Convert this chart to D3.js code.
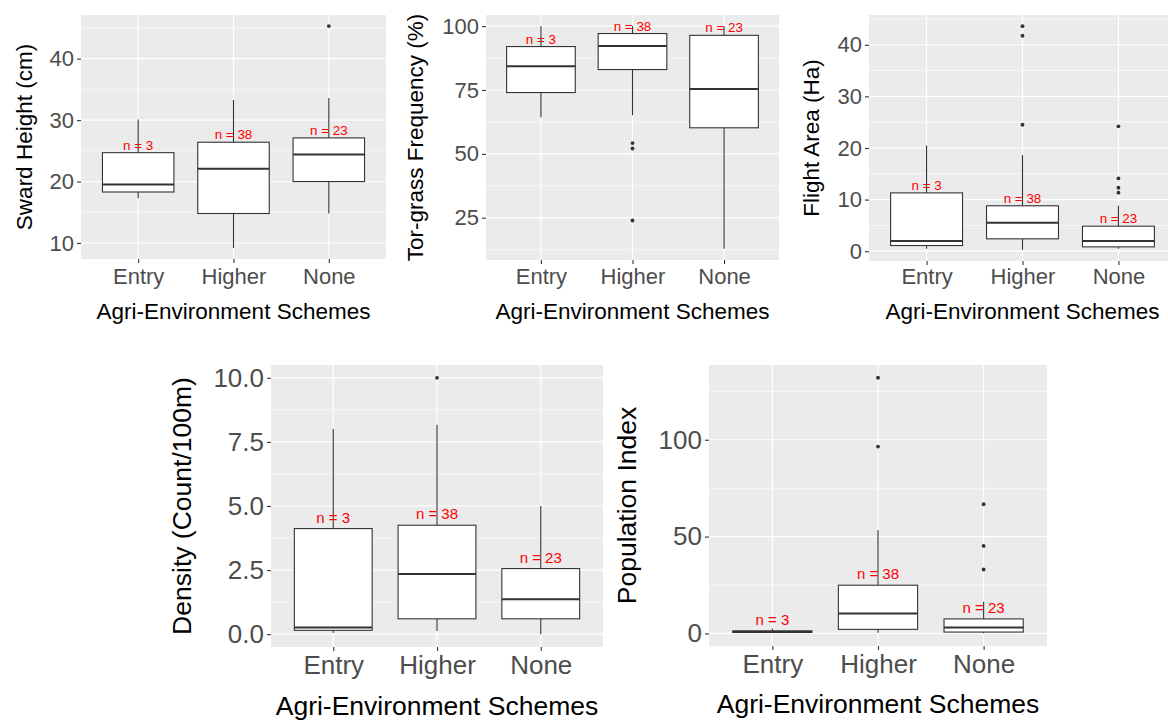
<!DOCTYPE html>
<html>
<head>
<meta charset="utf-8">
<script src="https://cdn.jsdelivr.net/npm/d3@7"></script>
<style>
  body { margin: 0; background: #fff; }
</style>
</head>
<body>
<div id="chart"></div>
<script>
const schemes = ["Entry", "Higher", "None"];
const sampleSizes = [3, 38, 23];

// box stats per scheme: [lower whisker, Q1, median, Q3, upper whisker]
const swardBoxes = [[17.3, 18.3, 19.5, 24.7, 30.1], [9.2, 14.8, 22.1, 26.4, 33.3], [14.8, 20.0, 24.4, 27.1, 33.6]];
const swardOutliers = [[], [], [45.3]];
const swardTicks = [10, 20, 30, 40];

const torBoxes = [[64.3, 74.0, 84.3, 92.0, 100], [65.1, 83.0, 92.2, 97.1, 100], [12.8, 60.2, 75.4, 96.4, 100]];
const torOutliers = [[], [54.2, 52.1, 23.9], []];
const torTicks = [25, 50, 75, 100];

const flightBoxes = [[0.47, 1.1, 2.0, 11.3, 20.5], [0.27, 2.4, 5.5, 8.8, 18.6], [0.47, 0.84, 2.0, 4.85, 8.8]];
const flightOutliers = [[], [43.6, 41.75, 24.5], [24.2, 14.1, 12.3, 11.35]];
const flightTicks = [0, 10, 20, 30, 40];

const densityBoxes = [[0.05, 0.15, 0.26, 4.12, 8.0], [0.12, 0.6, 2.35, 4.25, 8.17], [0.0, 0.6, 1.36, 2.56, 5.0]];
const densityOutliers = [[], [10.0], []];
const densityTicks = [0, 2.5, 5, 7.5, 10];

const popBoxes = [[0.2, 0.5, 0.9, 1.3, 2.5], [0.3, 2.1, 10.3, 24.9, 53.4], [0.1, 0.7, 3.1, 7.5, 16.3]];
const popOutliers = [[], [132, 96.5], [66.7, 45.2, 33.0]];
const popTicks = [0, 50, 100];

const xTitle = "Agri-Environment Schemes";

const panels = [
  { boxes: swardBoxes, outliers: swardOutliers, ticks: swardTicks, title: "Sward Height (cm)", fmt: d3.format("d"),
    x0: 81, x1: 386, y0: 15, y1: 259, font: 22, nFont: 13.4, titleOff: 57, nOff: 3, tickBase: 25, xTitleBase: 60 },
  { boxes: torBoxes, outliers: torOutliers, ticks: torTicks, title: "Tor-grass Frequency (%)", fmt: d3.format("d"),
    x0: 486, x1: 779, y0: 15, y1: 260, font: 22, nFont: 13.4, titleOff: 71, nOff: 3, tickBase: 24, xTitleBase: 59 },
  { boxes: flightBoxes, outliers: flightOutliers, ticks: flightTicks, title: "Flight Area (Ha)", fmt: d3.format("d"),
    x0: 869, x1: 1176, y0: 15, y1: 261, font: 22, nFont: 13.4, titleOff: 58, nOff: 3, tickBase: 23, xTitleBase: 58 },
  { boxes: densityBoxes, outliers: densityOutliers, ticks: densityTicks, title: "Density (Count/100m)", fmt: d3.format(".1f"),
    x0: 271, x1: 603, y0: 365, y1: 647, font: 26, nFont: 15, titleOff: 89, nOff: 6, tickBase: 27, xTitleBase: 68 },
  { boxes: popBoxes, outliers: popOutliers, ticks: popTicks, title: "Population Index", fmt: d3.format("d"),
    x0: 709, x1: 1047, y0: 365, y1: 646, font: 26, nFont: 15, titleOff: 82, nOff: 6, tickBase: 27, xTitleBase: 67 }
];

const svg = d3.select("#chart").append("svg")
  .attr("width", 1168)
  .attr("height", 720)
  .style("font-family", "'Liberation Sans', Arial, sans-serif");

panels.forEach(p => {
  const allVals = p.boxes.flat().concat(p.outliers.flat());
  const lo = d3.min(allVals), hi = d3.max(allVals);
  const pad = (hi - lo) * 0.05;   // ggplot default expansion

  const y = d3.scaleLinear().domain([lo - pad, hi + pad]).range([p.y1, p.y0]);
  const x = d3.scalePoint().domain(schemes).range([p.x0, p.x1]).padding(0.6);
  const boxW = x.step() * 0.75;

  const g = svg.append("g");

  g.append("rect")
    .attr("x", p.x0).attr("y", p.y0)
    .attr("width", p.x1 - p.x0).attr("height", p.y1 - p.y0)
    .attr("fill", "#EBEBEB");

  // minor grid: midpoints between major breaks
  const step = p.ticks[1] - p.ticks[0];
  const minor = [p.ticks[0] - step / 2].concat(p.ticks.map(t => t + step / 2))
    .filter(v => v >= y.domain()[0] && v <= y.domain()[1]);

  g.selectAll(".minor").data(minor).enter().append("line")
    .attr("x1", p.x0).attr("x2", p.x1)
    .attr("y1", d => y(d)).attr("y2", d => y(d))
    .attr("stroke", "#fff").attr("stroke-width", 0.6);

  g.selectAll(".major").data(p.ticks).enter().append("line")
    .attr("x1", p.x0).attr("x2", p.x1)
    .attr("y1", d => y(d)).attr("y2", d => y(d))
    .attr("stroke", "#fff").attr("stroke-width", 1.2);

  g.selectAll(".vgrid").data(schemes).enter().append("line")
    .attr("x1", d => x(d)).attr("x2", d => x(d))
    .attr("y1", p.y0).attr("y2", p.y1)
    .attr("stroke", "#fff").attr("stroke-width", 1.2);

  // axes
  const yAxis = g.append("g")
    .attr("transform", `translate(${p.x0},0)`)
    .call(d3.axisLeft(y).tickValues(p.ticks).tickFormat(p.fmt).tickSize(4).tickPadding(3));
  const xAxis = g.append("g")
    .attr("transform", `translate(0,${p.y1})`)
    .call(d3.axisBottom(x).tickSize(4).tickPadding(4));

  [yAxis, xAxis].forEach(a => {
    a.select(".domain").remove();
    a.selectAll("line").attr("stroke", "#333333").attr("stroke-width", 1.1);
    a.selectAll("text")
      .attr("fill", "#4D4D4D")
      .style("font-size", p.font + "px")
      .style("font-family", "'Liberation Sans', Arial, sans-serif");
  });
  xAxis.selectAll("text").attr("dy", null).attr("y", p.tickBase);
  yAxis.selectAll("text").attr("x", -7);

  // boxes
  p.boxes.forEach((b, i) => {
    const cx = x(schemes[i]);
    const [wLo, q1, med, q3, wHi] = b;

    g.append("line")
      .attr("x1", cx).attr("x2", cx).attr("y1", y(wHi)).attr("y2", y(q3))
      .attr("stroke", "#333333").attr("stroke-width", 1.1);
    g.append("line")
      .attr("x1", cx).attr("x2", cx).attr("y1", y(q1)).attr("y2", y(wLo))
      .attr("stroke", "#333333").attr("stroke-width", 1.1);

    g.append("rect")
      .attr("x", cx - boxW / 2).attr("width", boxW)
      .attr("y", y(q3)).attr("height", Math.max(0.5, y(q1) - y(q3)))
      .attr("fill", "#fff").attr("stroke", "#333333").attr("stroke-width", 1.1);

    g.append("line")
      .attr("x1", cx - boxW / 2).attr("x2", cx + boxW / 2)
      .attr("y1", y(med)).attr("y2", y(med))
      .attr("stroke", "#333333").attr("stroke-width", 2);

    g.selectAll(null).data(p.outliers[i]).enter().append("circle")
      .attr("cx", cx).attr("cy", d => y(d)).attr("r", 1.9)
      .attr("fill", "#333333");

    g.append("text")
      .attr("x", cx).attr("y", y(q3) - p.nOff)
      .attr("text-anchor", "middle")
      .attr("fill", "#FF0000")
      .style("font-size", p.nFont + "px")
      .text(`n = ${sampleSizes[i]}`);
  });

  // titles
  g.append("text")
    .attr("x", (p.x0 + p.x1) / 2)
    .attr("y", p.y1 + p.xTitleBase)
    .attr("text-anchor", "middle")
    .attr("fill", "#000")
    .style("font-size", (p.font + 0.5) + "px")
    .text(xTitle);

  g.append("text")
    .attr("transform", `translate(${p.x0 - p.titleOff},${(p.y0 + p.y1) / 2}) rotate(-90)`)
    .attr("text-anchor", "middle")
    .attr("dominant-baseline", "central")
    .attr("fill", "#000")
    .style("font-size", (p.font + 0.5) + "px")
    .text(p.title);
});
</script>
</body>
</html>
